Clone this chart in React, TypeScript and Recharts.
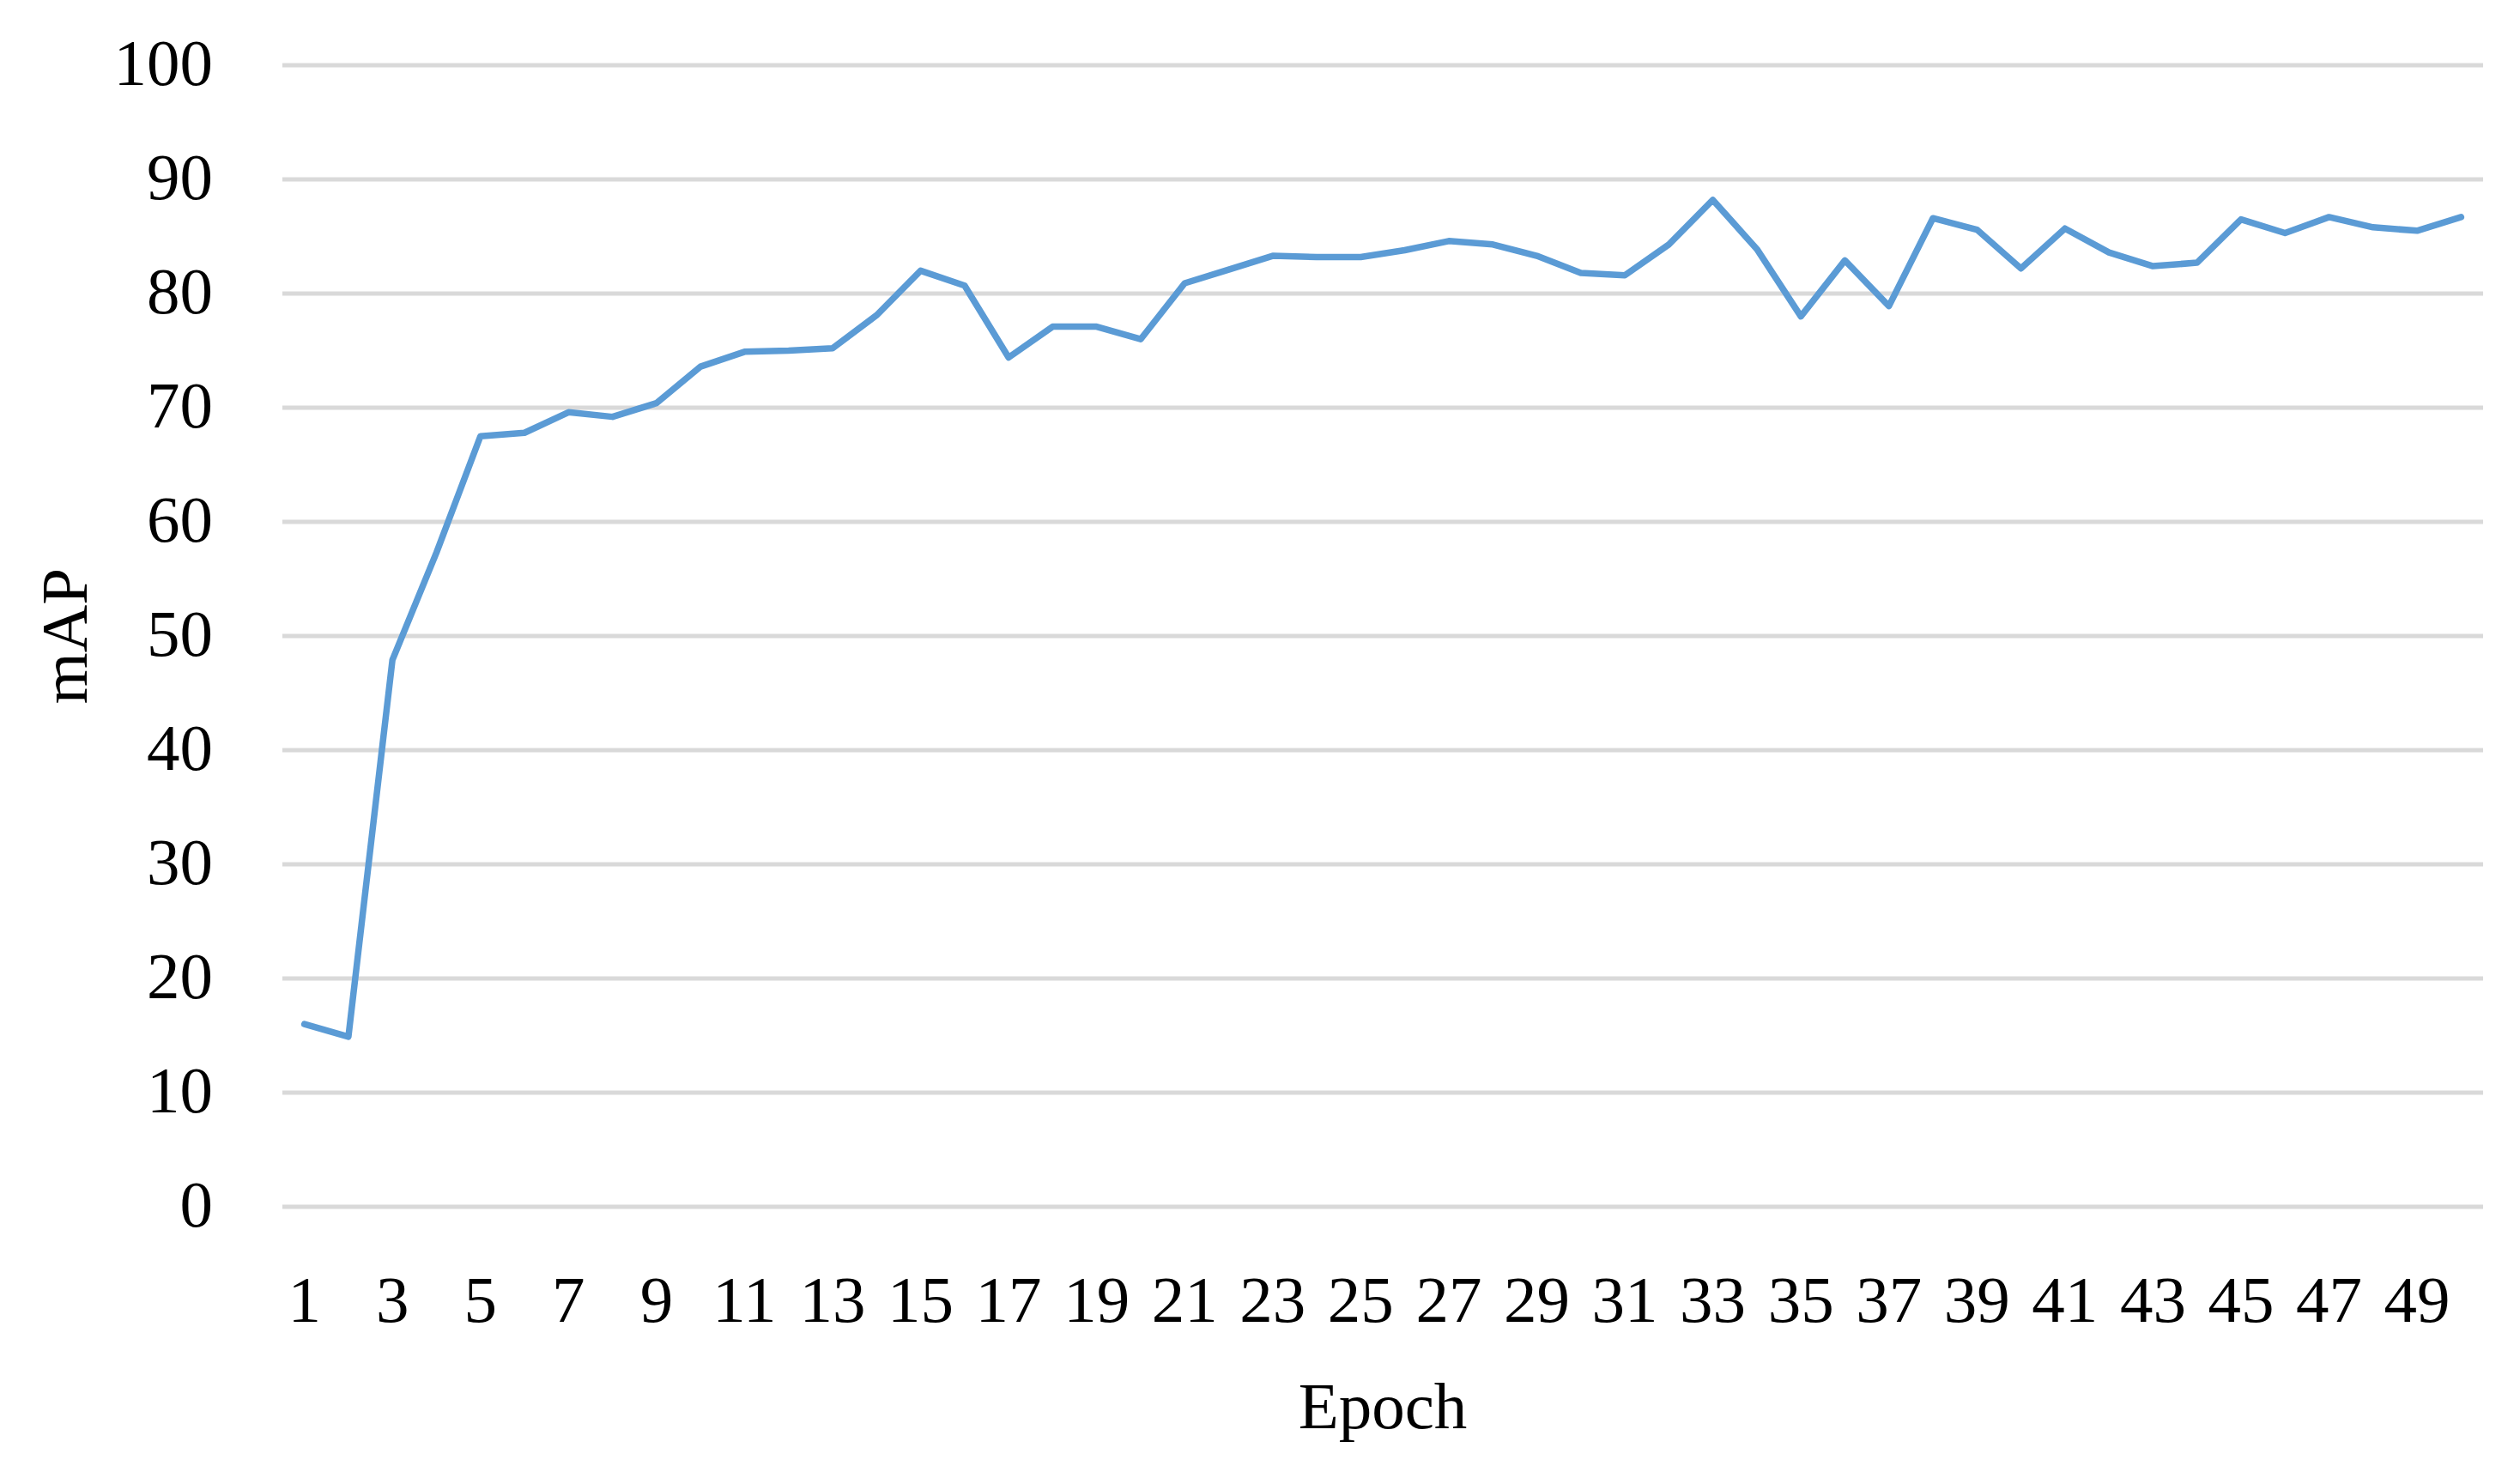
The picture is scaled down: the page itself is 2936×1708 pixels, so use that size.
import React from 'react';
import { LineChart, Line, XAxis, YAxis, CartesianGrid, Label } from 'recharts';

const epochs: number[] = [
  1, 2, 3, 4, 5, 6, 7, 8, 9, 10, 11, 12, 13, 14, 15, 16, 17, 18, 19, 20, 21, 22, 23, 24, 25,
  26, 27, 28, 29, 30, 31, 32, 33, 34, 35, 36, 37, 38, 39, 40, 41, 42, 43, 44, 45, 46, 47, 48, 49, 50,
];

const mapValues: number[] = [
  16.0, 14.9, 47.9, 57.3, 67.5, 67.8, 69.6, 69.2, 70.4, 73.6,
  74.9, 75.0, 75.2, 78.1, 82.0, 80.7, 74.4, 77.1, 77.1, 76.0,
  80.9, 82.1, 83.3, 83.2, 83.2, 83.8, 84.6, 84.3, 83.3, 81.8,
  81.6, 84.3, 88.2, 83.9, 78.0, 82.9, 78.9, 86.6, 85.6, 82.2,
  85.7, 83.6, 82.4, 82.7, 86.5, 85.3, 86.7, 85.8, 85.5, 86.7,
];

const xTicks: number[] = [1, 3, 5, 7, 9, 11, 13, 15, 17, 19, 21, 23, 25, 27, 29, 31, 33, 35, 37, 39, 41, 43, 45, 47, 49];
const yTicks: number[] = [0, 10, 20, 30, 40, 50, 60, 70, 80, 90, 100];

const xTitle = 'Epoch';
const yTitle = 'mAP';

const data = epochs.map((e, i) => ({ epoch: e, mAP: mapValues[i] }));

const FONT = '"Liberation Serif", "DejaVu Serif", serif';
const FS = 77;

const YTitle = (props: any) => {
  const vb = props.viewBox || { x: 0, y: 0, width: 0, height: 0 };
  const cx = vb.x + 75;
  const cy = vb.y + vb.height / 2;
  return (
    <text
      x={cx}
      y={cy}
      transform={`rotate(-90, ${cx}, ${cy})`}
      textAnchor="middle"
      dominantBaseline="central"
      fontFamily={FONT}
      fontSize={FS}
      fill="#000"
    >
      {yTitle}
    </text>
  );
};

const XTitle = (props: any) => {
  const vb = props.viewBox || { x: 0, y: 0, width: 0, height: 0 };
  return (
    <text
      x={vb.x + vb.width / 2}
      y={vb.y + 258}
      textAnchor="middle"
      fontFamily={FONT}
      fontSize={FS}
      fill="#000"
    >
      {xTitle}
    </text>
  );
};

export default function App() {
  return (
    <div style={{ position: 'absolute', left: 0, top: 0, width: 2936, height: 1708, background: '#fff' }}>
      <LineChart
        width={2936}
        height={1708}
        data={data}
        margin={{ top: 76, right: 43, bottom: 0, left: 0 }}
      >
        <CartesianGrid horizontal={true} vertical={false} stroke="#d9d9d9" strokeWidth={5} />
        <XAxis
          dataKey="epoch"
          type="number"
          domain={[0.5, 50.5]}
          ticks={xTicks}
          interval={0}
          height={302}
          axisLine={false}
          tickLine={false}
          tickSize={0}
          tickMargin={79}
          tick={{ fontFamily: FONT, fontSize: FS, fill: '#000' }}
        >
          <Label content={XTitle} />
        </XAxis>
        <YAxis
          type="number"
          domain={[0, 100]}
          ticks={yTicks}
          interval={0}
          width={329}
          axisLine={false}
          tickLine={false}
          tickSize={0}
          tickMargin={81}
          tick={{ fontFamily: FONT, fontSize: FS, fill: '#000', dy: -4 }}
        >
          <Label content={YTitle} />
        </YAxis>
        <Line
          type="linear"
          dataKey="mAP"
          stroke="#5b9bd5"
          strokeWidth={7.5}
          strokeLinejoin="round"
          strokeLinecap="round"
          dot={false}
          activeDot={false}
          isAnimationActive={false}
        />
      </LineChart>
    </div>
  );
}
